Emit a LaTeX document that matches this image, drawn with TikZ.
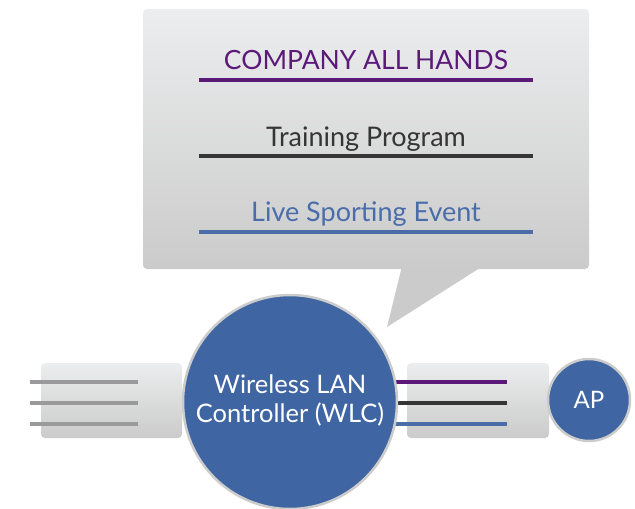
\documentclass[tikz,border=0pt]{standalone}
\usepackage{fontspec}
\setmainfont{Lato}
\definecolor{wlcblue}{HTML}{3F66A3}
\definecolor{purp}{HTML}{5B1A79}
\definecolor{darkl}{HTML}{353535}
\definecolor{bluel}{HTML}{4A6DAA}
\definecolor{grayl}{HTML}{9A9A9A}
\definecolor{boxtop}{HTML}{ECEDEE}
\definecolor{boxbot}{HTML}{CBCBCB}
\definecolor{rim}{HTML}{CCCCCC}
\begin{document}
\begin{tikzpicture}[x=1pt,y=-1pt,
  panel/.style={rounded corners=4pt, top color=boxtop, bottom color=boxbot, draw=none, inner sep=0pt},
  bigtitle/.style={anchor=base, font=\fontsize{27}{31}\selectfont},
  uline/.style={line width=3.3pt},
  feed/.style={line width=3.3pt},
  disc/.style={circle, fill=wlcblue, draw=rim, line width=2.5pt, inner sep=0pt, text=white}]
\path[use as bounding box] (0,0) rectangle (635,509);
% callout
\fill[boxbot] (402,266) -- (387,327) -- (483,266) -- cycle;
\node[panel, minimum width=446pt, minimum height=260pt] (callout) at (366,139) {};
\node[bigtitle, text=purp, font=\fontsize{26.5}{31}\selectfont] (t1) at (366,69) {COMPANY ALL HANDS};
\draw[uline, purp] (199,80) -- (533,80);
\node[bigtitle, text=darkl] (t2) at (366,146) {Training Program};
\draw[uline, darkl] (199,156) -- (533,156);
\node[bigtitle, text=bluel] (t3) at (366,221) {Live Sporting Event};
\draw[uline, bluel] (199,232) -- (533,232);
% side panels
\node[panel, minimum width=141pt, minimum height=75pt] (lbox) at (111.5,400.5) {};
\node[panel, minimum width=142pt, minimum height=75pt] (rbox) at (478,400.5) {};
\draw[feed, grayl] (30,382) -- (138,382);
\draw[feed, grayl] (30,403) -- (138,403);
\draw[feed, grayl] (30,424) -- (138,424);
\draw[feed, purp] (385,382) -- (507,382);
\draw[feed, darkl] (385,403) -- (507,403);
\draw[feed, bluel] (385,424) -- (507,424);
% WLC
\node[disc, minimum size=214pt] (wlc) at (290,402) {};
\node[text=white, align=center, font=\fontsize{25.5}{29}\selectfont] (wlct) at (290,400) {Wireless LAN\\Controller (WLC)};
% AP
\node[disc, minimum size=82pt, font=\fontsize{24}{28}\selectfont] (ap) at (589,400) {AP};
\end{tikzpicture}
\end{document}
